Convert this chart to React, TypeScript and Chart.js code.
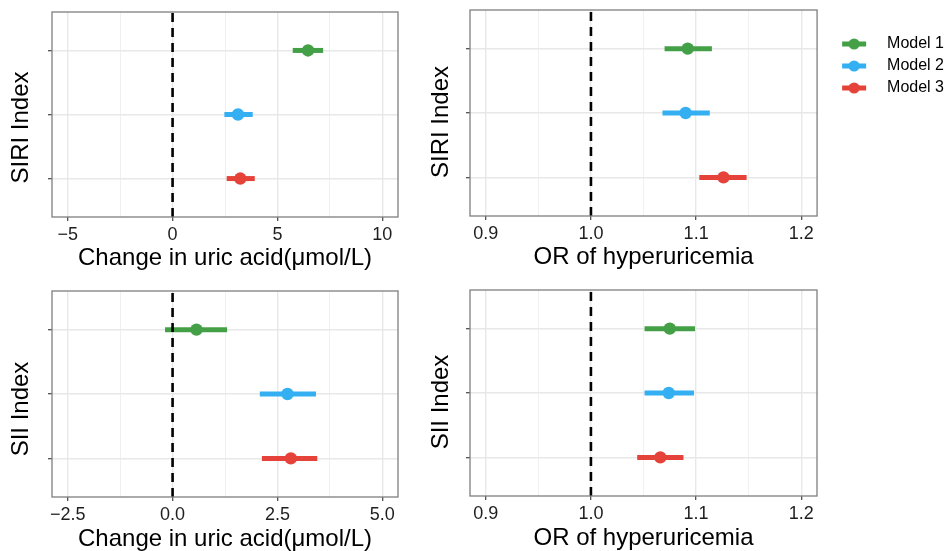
import React, { useEffect, useRef } from 'react';
import { Chart, registerables } from 'chart.js';

Chart.register(...registerables);

// ---------------- data ----------------
const modelNames = ['Model 1', 'Model 2', 'Model 3'];
const modelColors = ['#44A047', '#33AFF2', '#E5433A'];
const modelRows = [3, 2, 1];
const rowLimits = [0.4, 3.6];

const siriChangeEst = [6.46, 3.12, 3.23];
const siriChangeLow = [5.73, 2.47, 2.58];
const siriChangeHigh = [7.18, 3.82, 3.92];

const siriOrEst = [1.092, 1.09, 1.126];
const siriOrLow = [1.07, 1.068, 1.103];
const siriOrHigh = [1.115, 1.113, 1.148];

const siiChangeEst = [0.57, 2.74, 2.82];
const siiChangeLow = [-0.18, 2.08, 2.13];
const siiChangeHigh = [1.3, 3.42, 3.45];

const siiOrEst = [1.075, 1.074, 1.066];
const siiOrLow = [1.051, 1.051, 1.044];
const siiOrHigh = [1.099, 1.098, 1.088];

const siriChangeTicks = [-5, 0, 5, 10];
const siriChangeMinor = [-2.5, 2.5, 7.5];
const siriChangeRange = [-5.75, 10.75];

const siiChangeTicks = [-2.5, 0, 2.5, 5];
const siiChangeMinor = [-1.25, 1.25, 3.75];
const siiChangeRange = [-2.875, 5.375];

const orTicks = [0.9, 1.0, 1.1, 1.2];
const orMinor = [0.95, 1.05, 1.15];
const orRange = [0.885, 1.215];

const changeRef = 0;
const orRef = 1;

const changeTitle = 'Change in uric acid(μmol/L)';
const orTitle = 'OR of hyperuricemia';

// ---------------- styling ----------------
const FONT = "'Liberation Sans', Arial, Helvetica, sans-serif";
Chart.defaults.font.family = FONT;

type Spec = {
  key: string;
  est: number[];
  low: number[];
  high: number[];
  majors: number[];
  minors: number[];
  range: number[];
  ref: number;
  decimals: number;
  xTitle: string;
  yTitle: string;
  legend: boolean;
  box: { left: number; top: number; width: number; height: number };
  area: { left: number; top: number; padRight: number; axisH: number };
  yDy: number;
};

const fmt = (v: number, d: number) => {
  const s = Math.abs(v).toFixed(d);
  return v < 0 ? '\u2212' + s : s;
};

const near = (arr: number[], v: number) => arr.some((a) => Math.abs(a - v) < 1e-9);

const yTitlePlugin = {
  id: 'yTitle',
  afterDraw(chart: any, _args: any, opts: any) {
    if (!opts || !opts.text) return;
    const { ctx, chartArea } = chart;
    ctx.save();
    ctx.translate(opts.x, (chartArea.top + chartArea.bottom) / 2 + opts.dy);
    ctx.rotate(-Math.PI / 2);
    ctx.font = `${opts.size}px ${FONT}`;
    ctx.fillStyle = '#000';
    ctx.textAlign = 'center';
    ctx.textBaseline = 'middle';
    ctx.fillText(opts.text, 0, 0);
    ctx.restore();
  },
};

const panelBorderPlugin = {
  id: 'panelBorder',
  afterDraw(chart: any) {
    const { ctx, chartArea } = chart;
    ctx.save();
    ctx.strokeStyle = '#7F7F7F';
    ctx.lineWidth = 1.3;
    ctx.strokeRect(chartArea.left, chartArea.top, chartArea.right - chartArea.left, chartArea.bottom - chartArea.top);
    ctx.restore();
  },
};

function makeGlyph(color: string) {
  const c = document.createElement('canvas');
  c.width = 32;
  c.height = 12;
  const g = c.getContext('2d')!;
  g.fillStyle = color;
  g.fillRect(7, 3.5, 24, 5);
  g.beginPath();
  g.arc(19, 6, 5.6, 0, Math.PI * 2);
  g.fill();
  return c;
}

function buildConfig(spec: Spec): any {
  const datasets: any[] = [];
  datasets.push({
    label: 'reference',
    data: [
      { x: spec.ref, y: rowLimits[0] },
      { x: spec.ref, y: rowLimits[1] },
    ],
    showLine: true,
    borderColor: '#000',
    borderWidth: 2.6,
    borderDash: [9, 6],
    pointRadius: 0,
    pointHoverRadius: 0,
    fill: false,
  });
  modelNames.forEach((name, i) => {
    datasets.push({
      label: name,
      data: [{ x: spec.est[i], y: modelRows[i] }],
      pointRadius: 6.2,
      pointHoverRadius: 6.2,
      backgroundColor: modelColors[i],
      borderColor: modelColors[i],
      pointBorderWidth: 0,
    });
  });
  modelNames.forEach((name, i) => {
    datasets.push({
      label: name + ' CI',
      data: [
        { x: spec.low[i], y: modelRows[i] },
        { x: spec.high[i], y: modelRows[i] },
      ],
      showLine: true,
      borderColor: modelColors[i],
      backgroundColor: modelColors[i],
      borderWidth: 5,
      borderCapStyle: 'butt',
      pointRadius: 0,
      pointHoverRadius: 0,
    });
  });

  const allTicks = [...spec.majors, ...spec.minors].sort((a, b) => a - b);

  return {
    type: 'scatter',
    data: { datasets },
    plugins: [yTitlePlugin, panelBorderPlugin],
    options: {
      animation: false,
      responsive: true,
      maintainAspectRatio: false,
      devicePixelRatio: 1,
      events: [],
      layout: {
        padding: {
          left: 0,
          top: spec.area.top,
          bottom: 0,
          right: spec.area.padRight,
        },
      },
      scales: {
        x: {
          type: 'linear',
          position: 'bottom',
          min: spec.range[0],
          max: spec.range[1],
          afterBuildTicks: (scale: any) => {
            scale.ticks = allTicks.map((v) => ({ value: v }));
          },
          afterFit: (scale: any) => {
            scale.height = spec.area.axisH;
          },
          ticks: {
            autoSkip: false,
            maxRotation: 0,
            padding: 3,
            color: '#1E1E1E',
            font: { size: 18, family: FONT },
            callback: (v: number) => (near(spec.majors, v) ? fmt(v, spec.decimals) : ''),
          },
          grid: {
            color: (c: any) => (c.tick && near(spec.majors, c.tick.value) ? '#E8E8E8' : '#F0F0F0'),
            lineWidth: (c: any) => (c.tick && near(spec.majors, c.tick.value) ? 1.4 : 1),
            tickColor: (c: any) => (c.tick && near(spec.majors, c.tick.value) ? '#444' : 'rgba(0,0,0,0)'),
            tickWidth: 1.2,
            tickLength: 4,
            drawTicks: true,
          },
          border: { display: false },
          title: {
            display: true,
            text: spec.xTitle,
            color: '#000',
            font: { size: 24, family: FONT },
            padding: { top: 0, bottom: 2 },
          },
        },
        y: {
          type: 'linear',
          position: 'left',
          min: rowLimits[0],
          max: rowLimits[1],
          afterBuildTicks: (scale: any) => {
            scale.ticks = [...modelRows].sort((a, b) => a - b).map((v) => ({ value: v }));
          },
          afterFit: (scale: any) => {
            scale.width = spec.area.left;
          },
          ticks: {
            autoSkip: false,
            padding: 0,
            callback: () => '',
          },
          grid: {
            color: '#E8E8E8',
            lineWidth: 1.4,
            tickColor: '#444',
            tickWidth: 1.2,
            tickLength: 4,
          },
          border: { display: false },
        },
      },
      plugins: {
        tooltip: { enabled: false },
        yTitle: { text: spec.yTitle, x: 21, dy: spec.yDy, size: 24 },
        legend: spec.legend
          ? {
              display: true,
              position: 'right',
              align: 'start',
              maxWidth: 240,
              title: {
                display: true,
                text: ' ',
                font: { size: 10 },
                padding: { top: 8, bottom: 0 },
              },
              labels: {
                usePointStyle: true,
                pointStyleWidth: 56,
                padding: 6,
                color: '#000',
                font: { size: 16, family: FONT },
                generateLabels: () =>
                  modelNames.map((name, i) => ({
                    text: name,
                    pointStyle: makeGlyph(modelColors[i]),
                    fillStyle: modelColors[i],
                    strokeStyle: modelColors[i],
                    fontColor: '#000',
                    lineWidth: 0,
                    hidden: false,
                    datasetIndex: i + 1,
                  })),
              },
            }
          : { display: false },
      },
    },
  };
}

const specs: Spec[] = [
  {
    key: 'siri-change',
    est: siriChangeEst,
    low: siriChangeLow,
    high: siriChangeHigh,
    majors: siriChangeTicks,
    minors: siriChangeMinor,
    range: siriChangeRange,
    ref: changeRef,
    decimals: 0,
    xTitle: changeTitle,
    yTitle: 'SIRI Index',
    legend: false,
    box: { left: 0, top: 0, width: 420, height: 275 },
    area: { left: 52, top: 12, padRight: 22, axisH: 58 },
    yDy: 13,
  },
  {
    key: 'siri-or',
    est: siriOrEst,
    low: siriOrLow,
    high: siriOrHigh,
    majors: orTicks,
    minors: orMinor,
    range: orRange,
    ref: orRef,
    decimals: 1,
    xTitle: orTitle,
    yTitle: 'SIRI Index',
    legend: true,
    box: { left: 420, top: 0, width: 540, height: 274 },
    area: { left: 50, top: 10, padRight: 6, axisH: 58 },
    yDy: 9,
  },
  {
    key: 'sii-change',
    est: siiChangeEst,
    low: siiChangeLow,
    high: siiChangeHigh,
    majors: siiChangeTicks,
    minors: siiChangeMinor,
    range: siiChangeRange,
    ref: changeRef,
    decimals: 1,
    xTitle: changeTitle,
    yTitle: 'SII Index',
    legend: false,
    box: { left: 0, top: 275, width: 420, height: 281 },
    area: { left: 52, top: 16, padRight: 22, axisH: 59 },
    yDy: 15,
  },
  {
    key: 'sii-or',
    est: siiOrEst,
    low: siiOrLow,
    high: siiOrHigh,
    majors: orTicks,
    minors: orMinor,
    range: orRange,
    ref: orRef,
    decimals: 1,
    xTitle: orTitle,
    yTitle: 'SII Index',
    legend: false,
    box: { left: 420, top: 275, width: 420, height: 280 },
    area: { left: 50, top: 15, padRight: 23, axisH: 59 },
    yDy: 9,
  },
];

function Panel({ spec }: { spec: Spec }) {
  const ref = useRef<HTMLCanvasElement | null>(null);
  useEffect(() => {
    if (!ref.current) return;
    const chart = new Chart(ref.current, buildConfig(spec));
    return () => chart.destroy();
  }, [spec]);
  return (
    <div
      style={{
        position: 'absolute',
        left: spec.box.left,
        top: spec.box.top,
        width: spec.box.width,
        height: spec.box.height,
      }}
    >
      <canvas ref={ref} style={{ display: 'block' }} />
    </div>
  );
}

export default function App() {
  return (
    <div
      style={{
        position: 'fixed',
        left: 0,
        top: 0,
        width: 952,
        height: 551,
        overflow: 'hidden',
        background: '#fff',
      }}
    >
      {specs.map((s) => (
        <Panel key={s.key} spec={s} />
      ))}
    </div>
  );
}
